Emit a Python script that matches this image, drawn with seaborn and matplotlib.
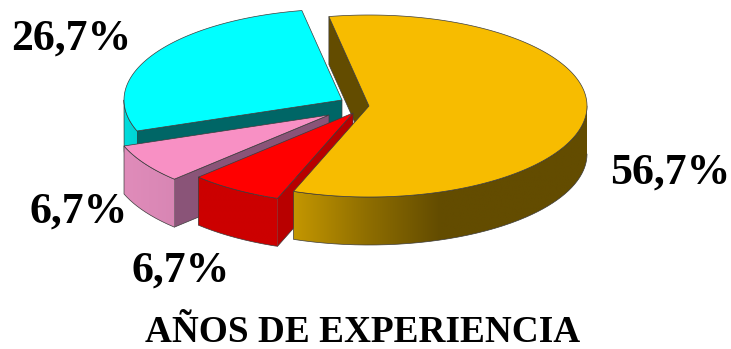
import numpy as np
import matplotlib
matplotlib.use("Agg")
import matplotlib.pyplot as plt
from matplotlib.patches import Polygon
import seaborn as sns

# Survey shares, clockwise from the top of the pie
percentages = [56.7, 6.7, 6.7, 26.7]
title = "AÑOS DE EXPERIENCIA"

# Colours for each slice: top face, cut face, outer wall from left to right
top_colors = ["#F7BC00", "#FF0000", "#F890C4", "#00FFFF"]
cut_colors = ["#634C00", "#B80000", "#8A5478", "#006666"]
wall_colors = [
    ["#C49700", "#8F6E00", "#634C00", "#634C00", "#634C00"],
    ["#CC0000", "#CC0000"],
    ["#E08CBA", "#D886B4"],
    ["#00DCDC", "#00D4D4"],
]

# Pie layout in figure pixels
RX, RY, DEPTH = 218, 91, 48
START = -10.6
apexes = [(369, 106), (353, 113), (329, 115), (342, 100)]
label_xy = [(670, 173), (181, 271), (79, 212), (71, 39)]
EDGE = "#3c3c3c"

sns.set_theme(style="white")
plt.rcParams["font.family"] = ["Liberation Serif", "DejaVu Serif"]

fig, ax = plt.subplots(figsize=(7.31, 3.49), dpi=100)
ax.set_position([0, 0, 1, 1])
ax.axis("off")

shares = np.array(percentages) / sum(percentages) * 360
starts = START + np.concatenate([[0], np.cumsum(shares)[:-1]])
ends = starts + shares


def rim(apex, deg, drop=0):
    t = np.radians(deg)
    return apex[0] + RX * np.sin(t), apex[1] - RY * np.cos(t) + drop


def cut_face(apex, deg, color, z):
    x, y = rim(apex, deg)
    xs = [apex[0], x, x, apex[0]]
    ys = [apex[1], y, y + DEPTH, apex[1] + DEPTH]
    ax.fill(xs, ys, facecolor=color, edgecolor=EDGE, lw=0.5, zorder=z)


def outer_wall(apex, a0, a1, colors, z):
    lo, hi = max(a0, 90), min(a1, 270)
    if hi <= lo:
        return
    xs, ys = rim(apex, np.linspace(lo, hi, 200))
    # Horizontal shading clipped to the outline of the wall
    ramp = np.array(sns.blend_palette(colors, 256))[None, :, :3]
    im = ax.imshow(ramp, extent=[xs.min(), xs.max(), (ys + DEPTH).max(), ys.min()],
                   aspect="auto", interpolation="bilinear", zorder=z)
    outline = np.c_[np.r_[xs, xs[::-1]], np.r_[ys, (ys + DEPTH)[::-1]]]
    im.set_clip_path(Polygon(outline, transform=ax.transData))
    ax.plot(outline[:, 0], outline[:, 1], color=EDGE, lw=0.5, zorder=z + 0.1)


def top_face(apex, a0, a1, color, z):
    xs, ys = rim(apex, np.linspace(a0, a1, 200))
    ax.fill(np.r_[apex[0], xs], np.r_[apex[1], ys], facecolor=color,
            edgecolor=EDGE, lw=0.5, zorder=z)


# Back to front: gold's cut face, then cyan, pink, red, and the gold body last
cut_face(apexes[0], starts[0], cut_colors[0], 1)
for i, z in ((3, 2), (2, 3), (1, 4)):
    cut_face(apexes[i], starts[i], cut_colors[i], z)
    outer_wall(apexes[i], starts[i], ends[i], wall_colors[i], z + 0.2)
    top_face(apexes[i], starts[i], ends[i], top_colors[i], z + 0.4)
outer_wall(apexes[0], starts[0], ends[0], wall_colors[0], 5)
top_face(apexes[0], starts[0], ends[0], top_colors[0], 5.5)

for value, (x, y) in zip(percentages, label_xy):
    ax.text(x, y, f"{value:.1f}%".replace(".", ","), ha="center", va="center",
            fontsize=31.5, fontweight="bold", color="black", zorder=10)
ax.text(363, 332, title, ha="center", va="center", fontsize=26.8,
        fontweight="bold", color="black", zorder=10)

ax.set_xlim(0, 731)
ax.set_ylim(349, 0)
fig.savefig("out.png", dpi=100)
